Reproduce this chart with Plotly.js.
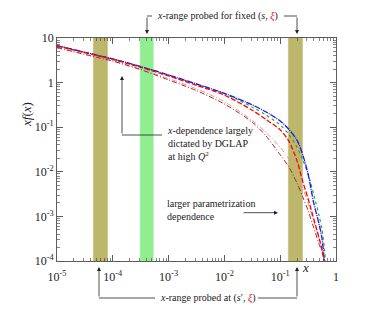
<!DOCTYPE html>
<html><head><meta charset="utf-8">
<script src="https://cdn.plot.ly/plotly-3.0.1.min.js"></script>
<style>html,body{margin:0;padding:0;background:#fff}</style>
</head><body>
<div id="chart" style="width:374px;height:318px"></div>
<script>
// x grid (shared)
var xGrid = [1e-5, 3.16e-5, 1e-4, 3.16e-4, 1e-3, 3.16e-3, 1e-2, 3.16e-2, 0.056, 0.1, 0.141, 0.2, 0.251, 0.316, 0.398, 0.501, 0.562, 0.617];
var xGreen = [1e-5, 3.16e-5, 1e-4, 3.16e-4, 1e-3, 3.16e-3, 1e-2, 3.16e-2, 0.056, 0.1, 0.141, 0.2, 0.251, 0.316, 0.398, 0.501, 0.562, 0.617, 0.65];
var yBlue  = [6.76, 4.79, 3.39, 2.29, 1.48, 0.933, 0.575, 0.316, 0.219, 0.138, 0.0912, 0.0513, 0.0251, 0.00891, 0.00204, 0.000646, 0.000316, 0.0001];
var yRed   = [6.61, 4.68, 3.31, 2.19, 1.41, 0.871, 0.525, 0.24, 0.148, 0.0871, 0.0501, 0.0178, 0.00631, 0.00251, 0.000891, 0.000316, 0.000178, 0.0001];
var yGreen = [6.76, 4.79, 3.39, 2.29, 1.48, 0.912, 0.562, 0.282, 0.186, 0.112, 0.0708, 0.0355, 0.0191, 0.00891, 0.00316, 0.001, 0.000501, 0.0002, 0.0001];
var yBrown = [6.03, 4.27, 3.02, 1.95, 1.15, 0.661, 0.331, 0.129, 0.0631, 0.024, 0.0132, 0.00562, 0.00282, 0.00135, 0.000562, 0.000234, 0.000158, 0.0001];
var yPink  = [6.17, 4.37, 3.09, 2.0, 1.23, 0.724, 0.372, 0.141, 0.0759, 0.0355, 0.02, 0.00891, 0.00447, 0.002, 0.000794, 0.000316, 0.000178, 0.0001];

// probed x-ranges (bands)
var bandOlive1 = [4.5e-5, 8e-5];
var bandGreen  = [3.1e-4, 5.3e-4];
var bandOlive2 = [0.14, 0.25];

// tick labels
var xTickVals = [1e-5, 1e-4, 1e-3, 1e-2, 1e-1, 1];
var xTickText = ['10<sup>-5</sup>', '10<sup>-4</sup>', '10<sup>-3</sup>', '10<sup>-2</sup>', '10<sup>-1</sup>', '1'];
var yTickVals = [1e-4, 1e-3, 1e-2, 1e-1, 1, 10];
var yTickText = ['10<sup>-4</sup>', '10<sup>-3</sup>', '10<sup>-2</sup>', '10<sup>-1</sup>', '1', '10'];

var Y0 = 1e-4, Y1 = 10;
function band(r, color) {
  return {x: [r[0], r[0], r[1], r[1], r[0]], y: [Y0, Y1, Y1, Y0, Y0], type: 'scatter', mode: 'lines',
    fill: 'toself', fillcolor: color, line: {width: 0.6, color: color}, hoverinfo: 'skip', showlegend: false};
}
function minorVals(lo, hi) {
  var v = [];
  for (var e = lo; e < hi; e++) for (var k = 2; k <= 9; k++) v.push(k * Math.pow(10, e));
  return v;
}
function curve(x, y, color, width, dash) {
  return {x: x, y: y, mode: 'lines', line: {color: color, width: width, dash: dash, shape: 'spline', smoothing: 0.8}};
}

var traces = [
  band(bandOlive1, 'rgb(189,183,107)'),
  band(bandGreen, 'rgb(144,238,144)'),
  band(bandOlive2, 'rgb(189,183,107)'),
  curve(xGrid, yPink, 'rgb(230,150,150)', 1, '5px,2px,1px,2px'),
  curve(xGrid, yBrown, 'rgb(165,42,42)', 1, '5px,2px,1px,2px'),
  curve(xGreen, yGreen, 'rgb(40,160,40)', 1.1, 'dot'),
  curve(xGrid, yBlue, 'rgb(20,20,255)', 1.3, '6px,1px,1px,1px'),
  curve(xGrid, yRed, 'rgb(255,0,0)', 1.3, '5px,2px')
];

var F = 'Liberation Serif';
function px2x(p) { return (p - 57) / 279; }
function px2y(p) { return (261 - p) / 223; }
function arrow(xp, yTip, yTail) {
  return {xref: 'paper', yref: 'paper', x: px2x(xp), y: px2y(yTip), ax: px2x(xp), ay: px2y(yTail),
    axref: 'paper', ayref: 'paper', text: '', showarrow: true, arrowhead: 2, arrowsize: 1, arrowwidth: 0.8, arrowcolor: '#222'};
}
function hline(x0, x1, y) {
  return {type: 'line', xref: 'paper', yref: 'paper', x0: px2x(x0), x1: px2x(x1), y0: px2y(y), y1: px2y(y), line: {color: '#222', width: 0.8}};
}
function label(text, xp, yp, anchor) {
  return {xref: 'paper', yref: 'paper', x: px2x(xp), y: px2y(yp), text: text, showarrow: false,
    xanchor: anchor || 'left', yanchor: 'middle', align: 'left', font: {family: F, size: 10, color: '#222'}};
}

var layout = {
  width: 374, height: 318,
  margin: {l: 57, r: 38, t: 38, b: 57},
  paper_bgcolor: '#fff', plot_bgcolor: '#fff',
  showlegend: false,
  font: {family: F, size: 12, color: '#222'},
  xaxis: {type: 'log', range: [-5, 0], tickmode: 'array', tickvals: xTickVals, ticktext: xTickText,
    ticks: 'inside', ticklen: 6, tickwidth: 0.8, tickcolor: '#333', showline: true, linecolor: '#333', linewidth: 0.8,
    mirror: 'allticks', showgrid: false, zeroline: false, tickfont: {family: F, size: 12, color: '#222'}, ticklabelstandoff: 5,
    minor: {tickmode: 'array', tickvals: minorVals(-5, 0), ticks: 'inside', ticklen: 3, tickcolor: '#333', tickwidth: 0.6, showgrid: false}},
  yaxis: {type: 'log', range: [-4, 1], tickmode: 'array', tickvals: yTickVals, ticktext: yTickText,
    ticks: 'inside', ticklen: 6, tickwidth: 0.8, tickcolor: '#333', showline: true, linecolor: '#333', linewidth: 0.8,
    mirror: 'allticks', showgrid: false, zeroline: false, tickfont: {family: F, size: 12, color: '#222'},
    minor: {tickmode: 'array', tickvals: minorVals(-4, 1), ticks: 'inside', ticklen: 3, tickcolor: '#333', tickwidth: 0.6, showgrid: false}},
  shapes: [
    hline(152, 147, 16), hline(284, 297, 16),
    hline(155, 99, 298), hline(258, 297, 298),
    hline(162, 122, 135)
  ],
  annotations: [
    label('<i>x</i>-range probed for fixed (<i>s</i>, <span style="color:red"><i>ξ</i></span>)', 155, 16),
    label('<i>x</i>-range probed at (<i>s</i>′, <span style="color:red"><i>ξ</i></span>)', 158, 298),
    label('<i>x</i>-dependence largely<br>dictated by DGLAP<br>at high <i>Q</i><sup>2</sup>', 165, 143),
    label('larger parametrization<br>dependence', 165, 210),
    arrow(147, 34, 16), arrow(297, 34, 16),
    arrow(99, 267, 298), arrow(297, 267, 298),
    arrow(122, 76, 135),
    {xref: 'paper', yref: 'paper', x: px2x(278), y: px2y(212.7), ax: px2x(242), ay: px2y(212.7), axref: 'paper', ayref: 'paper',
      text: '', showarrow: true, arrowhead: 2, arrowsize: 1, arrowwidth: 0.8, arrowcolor: '#222'},
    {xref: 'paper', yref: 'paper', x: px2x(17), y: px2y(100), text: '<i>xf</i>(<i>x</i>)', textangle: -90, showarrow: false,
      font: {family: F, size: 13, color: '#222'}},
    {xref: 'paper', yref: 'paper', x: px2x(311), y: px2y(277), text: '<i>x</i>', showarrow: false,
      font: {family: F, size: 13, color: '#222'}}
  ]
};

Plotly.newPlot('chart', traces, layout, {staticPlot: true, displayModeBar: false});
</script>
</body></html>
